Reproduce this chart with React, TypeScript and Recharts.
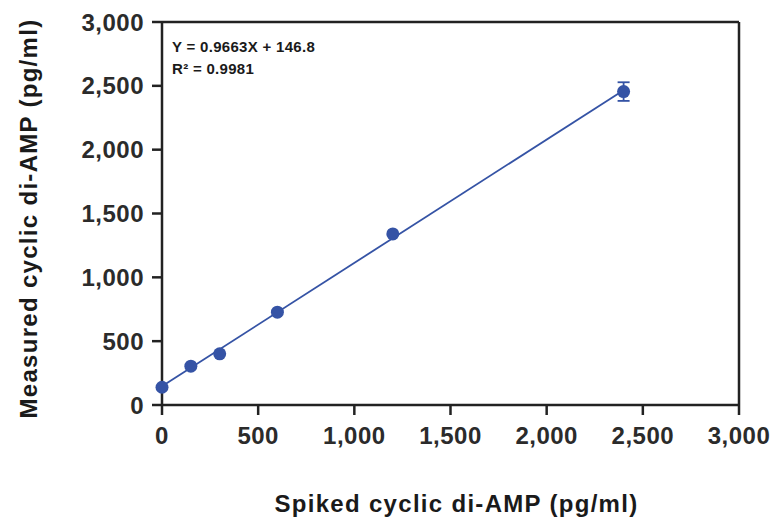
import React from 'react';
import {
  ComposedChart,
  Scatter,
  XAxis,
  YAxis,
  ErrorBar,
  ReferenceLine,
  Customized,
} from 'recharts';

const spiked = [0, 150, 300, 600, 1200, 2400];
const measured = [139, 304, 401, 727, 1340, 2455];
const errors = [0, 0, 0, 0, 0, 73];
const axisTicks = [0, 500, 1000, 1500, 2000, 2500, 3000];
const fitX = [0, 2400];
const fitY = [146.8, 2465.9];
const equationLines = ['Y = 0.9663X + 146.8', 'R² = 0.9981'];

const data = spiked.map((x, i) => ({ x, y: measured[i], err: errors[i] }));

const BLUE = '#3553a5';
const AXIS = '#222222';
const FONT = '"Liberation Sans", Arial, Helvetica, sans-serif';

const fmt = (v: number) => v.toLocaleString('en-US');

const Dot = (props: any) => {
  const { cx, cy } = props;
  if (cx == null || cy == null) return null;
  return <circle cx={cx} cy={cy} r={6.5} fill={BLUE} />;
};

const Equation = () => (
  <g>
    {equationLines.map((t, i) => (
      <text
        key={i}
        x={172}
        y={52 + i * 21.5}
        fontFamily={FONT}
        fontWeight="bold"
        fontSize={15}
        letterSpacing={0.3}
        fill="#1a1a1a"
      >
        {t}
      </text>
    ))}
  </g>
);

const tickStyle = {
  fontFamily: FONT,
  fontWeight: 'bold' as const,
  fontSize: 24,
  fill: '#2b2b2b',
  letterSpacing: 0.5,
};

export default function App() {
  return (
    <div style={{ position: 'absolute', left: 0, top: 0, width: 771, height: 520, background: '#fff' }}>
      <ComposedChart
        width={771}
        height={520}
        margin={{ top: 22, right: 32, bottom: 55, left: 0 }}
      >
        <XAxis
          type="number"
          dataKey="x"
          domain={[0, 3000]}
          ticks={axisTicks}
          tickFormatter={fmt}
          interval={0}
          height={60}
          stroke={AXIS}
          strokeWidth={2.5}
          tickSize={10}
          tickMargin={12}
          tick={tickStyle}
          tickLine={{ stroke: AXIS, strokeWidth: 2.5 }}
          label={{
            value: 'Spiked cyclic di-AMP (pg/ml)',
            position: 'bottom',
            offset: 30,
            dx: 6,
            style: {
              fontFamily: FONT,
              fontWeight: 'bold',
              fontSize: 24,
              fill: '#1a1a1a',
              letterSpacing: 1.3,
            },
          }}
        />
        <YAxis
          type="number"
          dataKey="y"
          domain={[0, 3000]}
          ticks={axisTicks}
          tickFormatter={fmt}
          interval={0}
          width={162}
          stroke={AXIS}
          strokeWidth={2.5}
          tickSize={10}
          tickMargin={8}
          tick={tickStyle}
          tickLine={{ stroke: AXIS, strokeWidth: 2.5 }}
          label={{
            value: 'Measured cyclic di-AMP (pg/ml)',
            position: 'insideLeft',
            angle: -90,
            offset: 30,
            dx: -2,
            dy: 5,
            style: {
              fontFamily: FONT,
              fontWeight: 'bold',
              fontSize: 24,
              fill: '#1a1a1a',
              letterSpacing: 1.3,
              textAnchor: 'middle',
            },
          }}
        />
        <ReferenceLine y={3000} stroke={AXIS} strokeWidth={2.5} />
        <ReferenceLine x={3000} stroke={AXIS} strokeWidth={2.5} />
        <ReferenceLine
          segment={[
            { x: fitX[0], y: fitY[0] },
            { x: fitX[1], y: fitY[1] },
          ]}
          stroke={BLUE}
          strokeWidth={1.8}
          ifOverflow="visible"
        />
        <Scatter data={data} dataKey="y" shape={<Dot />} isAnimationActive={false}>
          <ErrorBar dataKey="err" direction="y" width={6} stroke={BLUE} strokeWidth={1.8} isAnimationActive={false} />
        </Scatter>
        <Customized component={Equation} />
      </ComposedChart>
    </div>
  );
}
